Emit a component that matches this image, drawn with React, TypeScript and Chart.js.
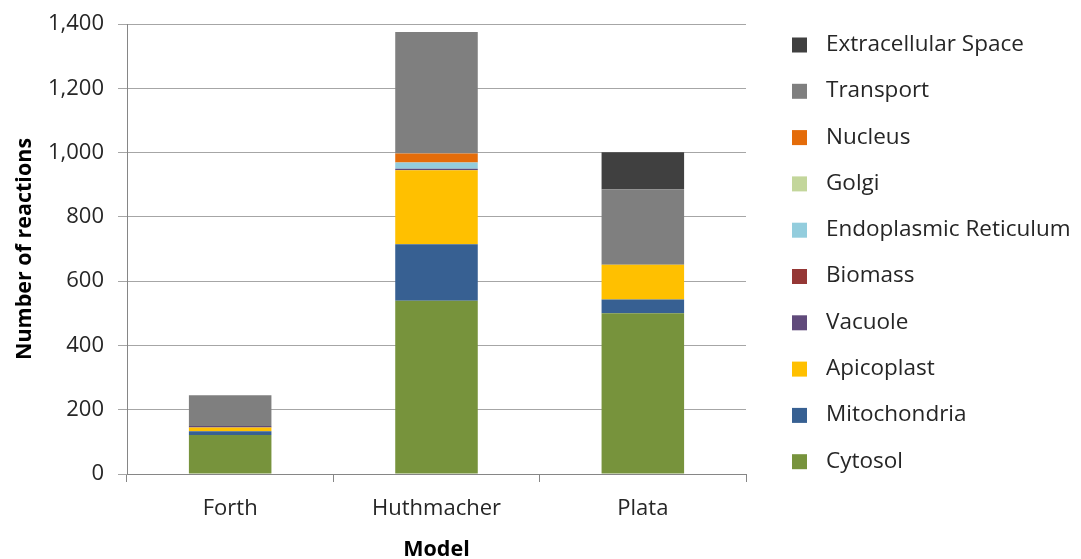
import React, { useEffect, useRef } from "react";
import { Chart, registerables } from "chart.js";

Chart.register(...registerables);

const categories = ["Forth", "Huthmacher", "Plata"];
const seriesNames = [
  "Cytosol",
  "Mitochondria",
  "Apicoplast",
  "Vacuole",
  "Biomass",
  "Endoplasmic Reticulum",
  "Golgi",
  "Nucleus",
  "Transport",
  "Extracellular Space",
];
const seriesColors = [
  "#77933C",
  "#376092",
  "#FFC000",
  "#604A7B",
  "#953735",
  "#93CDDD",
  "#C3D69B",
  "#E46C0A",
  "#7F7F7F",
  "#404040",
];
const cytosol = [121, 539, 500];
const mitochondria = [12, 176, 43];
const apicoplast = [12, 230, 108];
const vacuole = [4, 5, 0];
const biomass = [0, 0, 0];
const endoplasmicReticulum = [0, 19, 0];
const golgi = [0, 0, 0];
const nucleus = [0, 28, 0];
const transport = [96, 378, 235];
const extracellularSpace = [0, 0, 115];
const seriesValues = [
  cytosol,
  mitochondria,
  apicoplast,
  vacuole,
  biomass,
  endoplasmicReticulum,
  golgi,
  nucleus,
  transport,
  extracellularSpace,
];
const yMax = 1400;
const yStep = 200;

const FONT = "'Open Sans', 'Noto Sans', sans-serif";
const TEXT = "#262626";

const legendPlugin = {
  id: "sideLegend",
  afterDraw(chart: any) {
    const ctx = chart.ctx;
    const ds = chart.data.datasets;
    ctx.save();
    ctx.font = `22.5px ${FONT}`;
    ctx.textBaseline = "middle";
    ctx.textAlign = "left";
    const startY = 44.5;
    const step = 46.3;
    for (let k = 0; k < ds.length; k++) {
      const d = ds[ds.length - 1 - k];
      const y = startY + k * step;
      ctx.fillStyle = d.backgroundColor;
      ctx.fillRect(792, y - 7, 15, 15);
      ctx.fillStyle = TEXT;
      ctx.fillText(d.label, 826, y);
    }
    ctx.restore();
  },
};

export default function App() {
  const ref = useRef<HTMLCanvasElement | null>(null);
  useEffect(() => {
    document.body.style.margin = "0";
    const canvas = ref.current;
    if (!canvas) return;
    const chart = new Chart(canvas, {
      type: "bar",
      data: {
        labels: categories,
        datasets: seriesNames.map((name, i) => ({
          label: name,
          data: seriesValues[i],
          backgroundColor: seriesColors[i],
          borderWidth: 0,
          categoryPercentage: 1,
          barPercentage: 0.4,
        })),
      },
      options: {
        animation: false,
        responsive: false,
        maintainAspectRatio: false,
        layout: { padding: { left: 0, right: 335, top: 24, bottom: 0 } },
        plugins: {
          legend: { display: false },
          tooltip: { enabled: false },
        },
        scales: {
          x: {
            stacked: true,
            offset: true,
            grid: {
              offset: true,
              drawOnChartArea: false,
              drawTicks: true,
              tickLength: 8,
              color: "#868686",
            },
            border: { color: "#868686", width: 1 },
            ticks: {
              color: TEXT,
              font: { family: FONT, size: 22 },
              padding: 14,
            },
            title: {
              display: true,
              text: "Model",
              color: "#000",
              font: { family: FONT, size: 21.5, weight: "bold", lineHeight: 0.84 },
              padding: { top: 0, bottom: 0 },
            },
            afterFit(scale: any) {
              scale.height = 85;
              scale.paddingLeft = 0;
              scale.paddingRight = 0;
            },
          },
          y: {
            stacked: true,
            min: 0,
            max: yMax,
            ticks: {
              stepSize: yStep,
              color: TEXT,
              font: { family: FONT, size: 22 },
              padding: 14,
              callback: (v: any) => Number(v).toLocaleString("en-US"),
            },
            grid: {
              color: "#A6A6A6",
              tickLength: 9,
              drawTicks: true,
            },
            border: { color: "#868686", width: 1 },
            title: {
              display: true,
              text: "Number of reactions",
              color: "#000",
              font: { family: FONT, size: 21.5, weight: "bold" },
              padding: { top: 12, bottom: 0 },
            },
            afterFit(scale: any) {
              scale.width = 127;
              scale.paddingTop = 0;
              scale.paddingBottom = 0;
            },
          },
        },
      },
      plugins: [legendPlugin],
    });
    return () => chart.destroy();
  }, []);
  return (
    <div style={{ width: 1081, height: 559, background: "#fff" }}>
      <canvas ref={ref} width={1081} height={559} style={{ display: "block" }} />
    </div>
  );
}
